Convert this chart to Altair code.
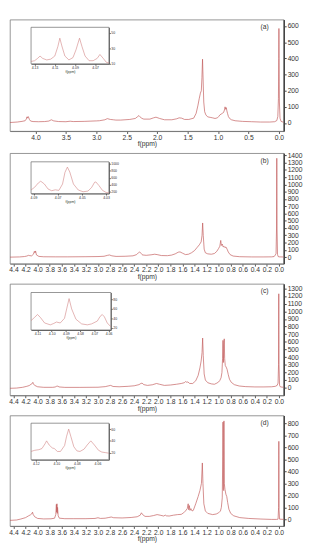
import altair as alt
import pandas as pd

# ---------------- data ----------------
# panel (a)
a_ppm = [4.42, 4.30, 4.22, 4.17, 4.15, 4.14, 4.13, 4.12, 4.11, 4.10, 4.08, 4.04, 3.95, 3.85, 3.78, 3.74, 3.70, 3.62, 3.50, 3.43, 3.38, 3.20, 3.00, 2.95, 2.86, 2.82, 2.77, 2.72, 2.68, 2.60, 2.45, 2.36, 2.32, 2.30, 2.28, 2.26, 2.22, 2.12, 2.06, 2.02, 1.96, 1.88, 1.76, 1.68, 1.64, 1.60, 1.55, 1.48, 1.40, 1.36, 1.33, 1.31, 1.29, 1.275, 1.265, 1.255, 1.245, 1.235, 1.22, 1.20, 1.17, 1.13, 1.09, 1.05, 1.01, 0.99, 0.97, 0.95, 0.93, 0.91, 0.895, 0.885, 0.875, 0.865, 0.855, 0.845, 0.83, 0.81, 0.78, 0.72, 0.60, 0.45, 0.30, 0.15, 0.07, 0.035, 0.018, 0.008, 0.003, 0.0, -0.003, -0.008, -0.018, -0.035, -0.08]
a_int = [3, 6, 10, 14, 25, 38, 30, 40, 32, 22, 12, 9, 8, 9, 12, 20, 13, 9, 8, 11, 9, 10, 13, 14, 20, 27, 22, 20, 18, 18, 22, 28, 40, 46, 38, 30, 24, 24, 32, 36, 28, 20, 20, 26, 32, 30, 22, 22, 30, 60, 110, 150, 185, 200, 280, 395, 260, 130, 70, 50, 38, 35, 32, 28, 32, 40, 50, 55, 60, 65, 80, 100, 85, 95, 75, 60, 40, 28, 20, 14, 10, 8, 6, 6, 8, 15, 40, 150, 400, 585, 400, 130, 30, 10, 4]

# panel (b)
b_ppm = [4.46, 4.30, 4.22, 4.18, 4.15, 4.13, 4.10, 4.07, 4.055, 4.045, 4.035, 4.02, 3.98, 3.90, 3.70, 3.50, 3.20, 3.00, 2.90, 2.84, 2.81, 2.77, 2.70, 2.55, 2.42, 2.36, 2.33, 2.31, 2.29, 2.26, 2.20, 2.12, 2.06, 2.02, 1.95, 1.85, 1.78, 1.72, 1.67, 1.64, 1.60, 1.55, 1.50, 1.45, 1.40, 1.36, 1.32, 1.29, 1.275, 1.265, 1.255, 1.24, 1.22, 1.18, 1.12, 1.07, 1.03, 1.00, 0.98, 0.965, 0.955, 0.94, 0.925, 0.91, 0.895, 0.88, 0.86, 0.84, 0.81, 0.76, 0.65, 0.45, 0.25, 0.12, 0.08, 0.06, 0.048, 0.04, 0.036, 0.032, 0.024, 0.015, 0.0, -0.08]
b_int = [0, 3, 8, 15, 25, 20, 18, 40, 80, 60, 85, 30, 10, 5, 4, 4, 6, 8, 12, 25, 30, 18, 10, 12, 18, 35, 60, 72, 55, 30, 25, 32, 40, 35, 22, 20, 28, 45, 68, 72, 55, 35, 40, 60, 90, 130, 170, 210, 300, 470, 300, 110, 60, 45, 40, 50, 80, 120, 150, 230, 160, 180, 140, 150, 130, 140, 110, 70, 35, 15, 6, 3, 3, 4, 8, 30, 50, 400, 1360, 400, 40, 10, 4, 2]

# panel (c)
c_ppm = [4.46, 4.35, 4.25, 4.18, 4.14, 4.11, 4.09, 4.08, 4.07, 4.05, 4.00, 3.90, 3.75, 3.70, 3.685, 3.675, 3.665, 3.65, 3.55, 3.30, 3.00, 2.88, 2.82, 2.79, 2.75, 2.65, 2.50, 2.40, 2.32, 2.29, 2.27, 2.24, 2.18, 2.10, 2.03, 1.98, 1.90, 1.80, 1.70, 1.62, 1.57, 1.55, 1.53, 1.51, 1.48, 1.43, 1.38, 1.34, 1.31, 1.29, 1.275, 1.265, 1.255, 1.24, 1.22, 1.18, 1.12, 1.07, 1.03, 1.00, 0.98, 0.96, 0.945, 0.935, 0.928, 0.921, 0.914, 0.907, 0.90, 0.89, 0.875, 0.86, 0.84, 0.82, 0.79, 0.74, 0.66, 0.55, 0.40, 0.25, 0.12, 0.06, 0.03, 0.015, 0.007, 0.003, -0.001, -0.01, -0.025, -0.08]
c_int = [-8, -5, 5, 18, 28, 45, 55, 70, 50, 30, 12, 5, 5, 10, 22, 18, 24, 10, 4, 4, 6, 14, 25, 30, 16, 12, 18, 25, 40, 55, 60, 40, 30, 38, 55, 45, 30, 35, 45, 55, 65, 80, 72, 75, 55, 55, 90, 160, 260, 350, 460, 650, 420, 180, 100, 65, 50, 45, 60, 75, 95, 130, 200, 380, 620, 330, 560, 640, 380, 290, 270, 240, 170, 110, 70, 40, 22, 14, 10, 10, 12, 18, 30, 60, 300, 1230, 300, 30, 10, 5]

# panel (d)
d_ppm = [4.46, 4.35, 4.28, 4.20, 4.15, 4.12, 4.10, 4.085, 4.075, 4.05, 4.00, 3.90, 3.78, 3.72, 3.70, 3.69, 3.685, 3.68, 3.675, 3.67, 3.66, 3.64, 3.55, 3.40, 3.20, 3.05, 3.00, 2.96, 2.88, 2.82, 2.78, 2.74, 2.60, 2.45, 2.35, 2.30, 2.28, 2.26, 2.22, 2.15, 2.08, 2.02, 1.97, 1.91, 1.885, 1.87, 1.82, 1.75, 1.68, 1.62, 1.58, 1.55, 1.52, 1.505, 1.495, 1.485, 1.475, 1.46, 1.44, 1.42, 1.38, 1.34, 1.31, 1.285, 1.27, 1.26, 1.245, 1.22, 1.18, 1.10, 1.04, 1.00, 0.97, 0.955, 0.94, 0.932, 0.928, 0.922, 0.916, 0.912, 0.906, 0.895, 0.88, 0.865, 0.85, 0.83, 0.80, 0.75, 0.65, 0.50, 0.30, 0.12, 0.04, 0.015, 0.006, 0.002, -0.002, -0.01, -0.08]
d_int = [-8, -5, 3, 15, 30, 38, 45, 60, 42, 22, 8, 4, 5, 10, 40, 125, 60, 130, 50, 100, 30, 10, 6, 6, 6, 8, 14, 8, 10, 16, 20, 14, 12, 16, 22, 35, 55, 40, 25, 25, 32, 40, 35, 28, 36, 30, 28, 35, 40, 42, 55, 70, 90, 130, 80, 115, 75, 90, 70, 75, 130, 190, 240, 300, 470, 300, 130, 70, 50, 40, 45, 55, 70, 100, 180, 520, 810, 250, 240, 820, 300, 250, 210, 190, 140, 85, 50, 30, 15, 8, 3, 0, 0, 2, 100, 650, 80, 2, 0]

# insets
ia_ppm = [4.1335, 4.13, 4.127, 4.1246, 4.122, 4.118, 4.114, 4.11, 4.107, 4.105, 4.103, 4.100, 4.096, 4.092, 4.089, 4.0855, 4.083, 4.080, 4.076, 4.072, 4.068, 4.0653, 4.062, 4.059, 4.0564]
ia_int = [13, 14, 17, 20, 17, 15, 16, 20, 32, 43, 33, 20, 15, 18, 28, 43, 32, 20, 14, 14, 17, 22, 17, 12, 11]
ib_ppm = [4.092, 4.089, 4.086, 4.084, 4.081, 4.078, 4.075, 4.072, 4.069, 4.066, 4.064, 4.062, 4.060, 4.057, 4.053, 4.049, 4.045, 4.042, 4.0395, 4.0385, 4.036, 4.033, 4.030, 4.0277]
ib_int = [250, 330, 450, 500, 420, 280, 230, 255, 240, 420, 750, 900, 760, 420, 250, 200, 220, 320, 470, 480, 380, 240, 180, 170]
ic_ppm = [4.1145, 4.112, 4.110, 4.108, 4.105, 4.101, 4.0985, 4.0967, 4.094, 4.091, 4.0895, 4.0878, 4.086, 4.083, 4.079, 4.075, 4.072, 4.068, 4.066, 4.0645, 4.063, 4.061, 4.0585]
ic_int = [35, 42, 48, 42, 30, 26, 29, 32, 30, 40, 60, 82, 60, 38, 28, 26, 28, 34, 44, 48, 43, 30, 22]
id_ppm = [4.1246, 4.121, 4.117, 4.114, 4.111, 4.1095, 4.107, 4.104, 4.102, 4.099, 4.096, 4.092, 4.090, 4.088, 4.086, 4.083, 4.080, 4.077, 4.073, 4.070, 4.0665, 4.063, 4.059, 4.0558, 4.052, 4.0489]
id_int = [22, 24, 25, 27, 35, 40, 33, 28, 27, 22, 22, 32, 48, 60, 48, 30, 23, 22, 26, 33, 40, 33, 24, 21, 20, 19]

# axis tick values
ticks_a = [4.0, 3.5, 3.0, 2.5, 2.0, 1.5, 1.0, 0.5, 0.0]
ticks_bcd = [4.4, 4.2, 4.0, 3.8, 3.6, 3.4, 3.2, 3.0, 2.8, 2.6, 2.4, 2.2, 2.0, 1.8, 1.6, 1.4, 1.2, 1.0, 0.8, 0.6, 0.4, 0.2, 0.0]
yt_a = [0, 100, 200, 300, 400, 500, 600]
yt_b = [0, 100, 200, 300, 400, 500, 600, 700, 800, 900, 1000, 1100, 1200, 1300, 1400]
yt_c = [0, 100, 200, 300, 400, 500, 600, 700, 800, 900, 1000, 1100, 1200, 1300]
yt_d = [0, 100, 200, 300, 400, 500, 600, 700, 800]
ixt_a = [4.13, 4.11, 4.09, 4.07]
ixt_b = [4.09, 4.07, 4.05, 4.03]
ixt_c = [4.11, 4.10, 4.09, 4.08, 4.07, 4.06]
ixt_d = [4.12, 4.10, 4.08, 4.06]
iyt_a = [10, 30, 50]
iyt_b = [200, 400, 600, 800, 1000]
iyt_c = [20, 40, 60, 80]
iyt_d = [20, 40, 60]

# ---------------- styling ----------------
W = 285
LINE = "#c25b5b"
FONT = "Liberation Sans"
TXT = "#333333"


def panel(ppm, inten, xdom, xticks, ydom, yticks, label,
          ippm, iint, ixdom, ixticks, iydom, iyticks, box, h):
    df = pd.DataFrame({"ppm": ppm, "v": inten})
    xaxis = alt.Axis(values=xticks, format=".1f", title="f(ppm)", grid=False,
                     labelFontSize=7, titleFontSize=7, titleFontWeight="normal",
                     tickSize=2.5, labelPadding=0, titlePadding=0,
                     labelOverlap=False, labelFlush=False,
                     domainColor="#777", tickColor="#555")
    yaxis = alt.Axis(values=yticks, format="d", orient="right", title=None, grid=False,
                     labelFontSize=7, tickSize=2.5, labelPadding=1,
                     labelOverlap=False, labelFlush=False,
                     domainColor="#444", domainWidth=1.6, tickColor="#444")
    line = alt.Chart(df).mark_line(color=LINE, strokeWidth=0.7, clip=True).encode(
        x=alt.X("ppm:Q", scale=alt.Scale(domain=xdom, reverse=True, nice=False, zero=False), axis=xaxis),
        y=alt.Y("v:Q", scale=alt.Scale(domain=ydom, nice=False, zero=False), axis=yaxis),
    )
    lab = alt.Chart(pd.DataFrame({"t": [label]})).mark_text(
        fontSize=7, font=FONT, fill=TXT, align="center", baseline="middle"
    ).encode(text="t:N", x=alt.value(W - 20), y=alt.value(8))
    main = alt.layer(line, lab)

    x0, x1, y0, y1 = box
    ixs = alt.Scale(domain=ixdom, range=[x1, x0], nice=False, zero=False)
    iys = alt.Scale(domain=iydom, range=[y1, y0], nice=False, zero=False)
    ixaxis = alt.Axis(values=ixticks, format=".2f", title="f(ppm)", orient="bottom",
                      offset=y1 - h, grid=False, labelFontSize=3.6, titleFontSize=3.6,
                      titleFontWeight="normal", tickSize=1.5, labelPadding=0.5,
                      titlePadding=0.5, labelOverlap=False, labelFlush=False,
                      domainColor="#555", tickColor="#555")
    iyaxis = alt.Axis(values=iyticks, format="d", orient="right", offset=x1 - W, title=None,
                      grid=False, labelFontSize=3.6, tickSize=1.5, labelPadding=0.5,
                      labelOverlap=False, labelFlush=False,
                      domainColor="#555", tickColor="#555")
    bdf = pd.DataFrame({"xa": [ixdom[0]], "xb": [ixdom[1]], "ya": [iydom[0]], "yb": [iydom[1]]})
    rect = alt.Chart(bdf).mark_rect(fill="white", stroke="#666", strokeWidth=0.7).encode(
        x=alt.X("xa:Q", scale=ixs, axis=ixaxis), x2="xb:Q",
        y=alt.Y("ya:Q", scale=iys, axis=iyaxis), y2="yb:Q",
    )
    idf = pd.DataFrame({"ppm": ippm, "v": iint})
    iline = alt.Chart(idf).mark_line(color="#d08080", strokeWidth=0.6).encode(
        x=alt.X("ppm:Q", scale=ixs, axis=ixaxis),
        y=alt.Y("v:Q", scale=iys, axis=iyaxis),
    )
    inset = alt.layer(rect, iline)
    return alt.layer(main, inset).resolve_scale(x="independent", y="independent").properties(width=W, height=h)


pa = panel(a_ppm, a_int, [-0.08, 4.42], ticks_a, [-50, 640], yt_a, "(a)",
           ia_ppm, ia_int, [4.0564, 4.1335], ixt_a, [10, 57], iyt_a, (22, 103, 8, 46), 116)
pb = panel(b_ppm, b_int, [-0.08, 4.46], ticks_bcd, [-90, 1430], yt_b, "(b)",
           ib_ppm, ib_int, [4.0277, 4.092], ixt_b, [150, 1050], iyt_b, (22, 103, 9, 42), 115)
pc = panel(c_ppm, c_int, [-0.08, 4.46], ticks_bcd, [-100, 1360], yt_c, "(c)",
           ic_ppm, ic_int, [4.0585, 4.1145], ixt_c, [15, 95], iyt_c, (22, 105, 9, 48), 116)
pd_ = panel(d_ppm, d_int, [-0.08, 4.46], ticks_bcd, [-55, 865], yt_d, "(d)",
            id_ppm, id_int, [4.0489, 4.1246], ixt_d, [8, 70], iyt_d, (22, 103, 8, 46), 115)

chart = alt.vconcat(pa, pb, pc, pd_, spacing=3).properties(
    padding={"left": 0, "top": 0, "right": 0, "bottom": 0}
).configure_view(stroke="#777", strokeWidth=0.8).configure_axis(
    labelFont=FONT, titleFont=FONT, labelColor=TXT, titleColor=TXT
).configure_text(font=FONT)

chart.save("out.html", embed_options={"renderer": "svg", "actions": False})
